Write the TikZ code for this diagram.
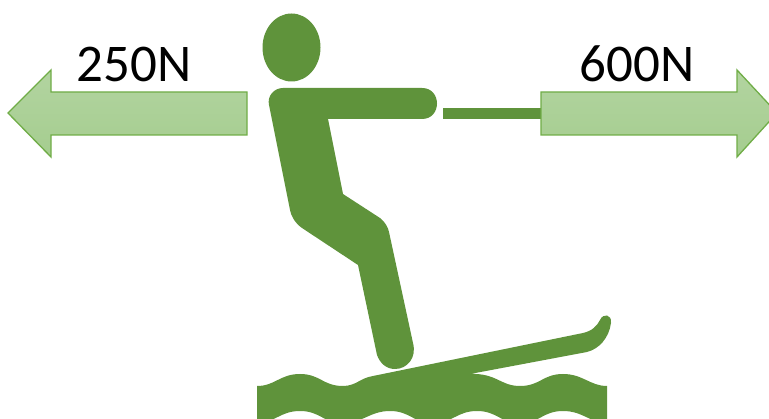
\documentclass[tikz,border=0pt]{standalone}
\usepackage{fontspec}
\setmainfont{Carlito}
\definecolor{figgreen}{HTML}{5F933B}
\definecolor{arrowline}{HTML}{70AD47}
\definecolor{arrowtop}{HTML}{B2D4A0}
\definecolor{arrowbottom}{HTML}{A5CD8F}
\tikzset{
	figure/.style={fill=figgreen},
	forcearrow/.style={draw=arrowline,line width=1.3pt,top color=arrowtop,bottom color=arrowbottom,shading angle=0},
	forcelabel/.style={font=\fontsize{53}{53}\selectfont,anchor=base,inner sep=0pt}
}
\begin{document}
\begin{tikzpicture}[x=1pt,y=-1pt]
	\useasboundingbox (0,0) rectangle (769,419);
	\clip (0,0) rectangle (769,419);

	% Rope
	\fill[figure] (443,108) rectangle (545,119);

	% Force arrows
	\draw[forcearrow] (247,92) -- (51,92) -- (51,70) -- (8,113) -- (51,157) -- (51,135) -- (247,135) -- cycle;
	\draw[forcearrow] (541,92) -- (737,92) -- (737,70) -- (777,113) -- (737,157) -- (737,135) -- (541,135) -- cycle;

	% Labels
	\node[forcelabel] (left force) at (134,82) {250N};
	\node[forcelabel] (right force) at (637,82) {600N};

	% Head
	\fill[figure] (291.5,47.5) ellipse (29 and 34);

	% Body and leg
	\fill[figure] (283,88) -- (422,88)
		.. controls (442,88) and (442,119) .. (422,119)
		-- (328,119) -- (343,194) -- (380,218)
		.. controls (385,222) and (388,227) .. (389,232)
		-- (413,343)
		.. controls (417,358) and (407,369) .. (395,369)
		.. controls (386,369) and (380,363) .. (377,355)
		-- (358,265) -- (302,228)
		.. controls (295,223) and (291,216) .. (290,210)
		-- (269,105)
		.. controls (267,96) and (274,88) .. (283,88) -- cycle;

	% Ski and water
	\fill[figure] (257,386)
		.. controls (275,386) and (280,374) .. (300,374)
		.. controls (320,374) and (323,386) .. (343,386)
		.. controls (356,386) and (360,378) .. (373,376)
		-- (583,333)
		.. controls (592,331) and (597,326) .. (600,320)
		.. controls (603,313) and (612,314) .. (611,323)
		.. controls (609,338) and (599,349) .. (587,352)
		-- (470,374)
		.. controls (497,373) and (500,386) .. (520,386)
		.. controls (540,386) and (543,374) .. (563,374)
		.. controls (583,374) and (590,386) .. (607,386)
		-- (607,423)
		.. controls (590,423) and (583,411) .. (563,411)
		.. controls (543,411) and (540,423) .. (520,423)
		.. controls (500,423) and (497,411) .. (477,411)
		.. controls (457,411) and (453,423) .. (433,423)
		.. controls (413,423) and (410,411) .. (390,411)
		.. controls (370,411) and (363,423) .. (343,423)
		.. controls (323,423) and (320,411) .. (300,411)
		.. controls (280,411) and (275,423) .. (257,423) -- cycle;
\end{tikzpicture}
\end{document}
